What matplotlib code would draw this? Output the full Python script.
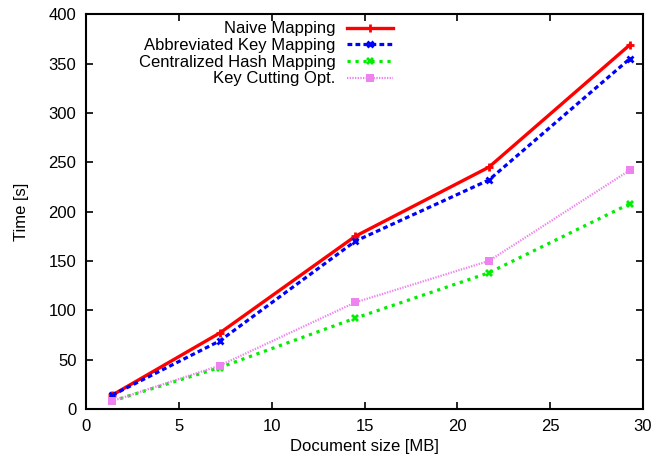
import matplotlib
matplotlib.use('Agg')
import matplotlib.pyplot as plt

plt.rcParams['font.family'] = ['Liberation Sans', 'DejaVu Sans']

# data
doc_size = [1.4, 7.2, 14.5, 21.7, 29.3]
naive = [14, 77, 175, 245, 369]
abbrev = [14, 69, 170, 232, 355]
central = [8, 42, 92, 138, 208]
key_cut = [8, 44, 108, 150, 242]

labels = ['Naive Mapping', 'Abbreviated Key Mapping',
          'Centralized Hash Mapping', 'Key Cutting Opt.']
x_ticks = [0, 5, 10, 15, 20, 25, 30]
y_ticks = [0, 50, 100, 150, 200, 250, 300, 350, 400]

fig = plt.figure(figsize=(6.58, 4.59), dpi=100)
ax = fig.add_axes([0.131, 0.109, 0.846, 0.860])

ax.plot(doc_size, naive, color='#ff0000', lw=2.4, ls='-',
        marker='+', ms=6, mew=2, label=labels[0])
ax.plot(doc_size, abbrev, color='#0000ff', lw=2.3, ls=(0, (1.5, 1)),
        marker='x', ms=5, mew=2, label=labels[1])
ax.plot(doc_size, central, color='#00ee00', lw=2.3, ls=(0, (1, 1.5)),
        marker='X', ms=6, mew=0, label=labels[2])
ax.plot(doc_size, key_cut, color='#ee82ee', lw=1.6, ls=(0, (0.6, 0.6)),
        marker='s', ms=6, mew=0, label=labels[3])

ax.set_xlim(0, 30)
ax.set_ylim(0, 400)
ax.set_xticks(x_ticks)
ax.set_yticks(y_ticks)
ax.tick_params(direction='in', top=True, right=True, length=5, width=1.2,
               labelsize=12, pad=7)
for s in ax.spines.values():
    s.set_linewidth(1.5)

ax.set_xlabel('Document size [MB]', fontsize=12, labelpad=4)
ax.set_ylabel('Time [s]', fontsize=12, labelpad=14)

leg = ax.legend(loc='upper right', bbox_to_anchor=(0.551, 0.982), markerfirst=False,
                frameon=False, fontsize=12, handlelength=2.76,
                handletextpad=0.7, labelspacing=0.1, borderaxespad=0,
                borderpad=0)
for t in leg.get_texts():
    t.set_ha('right')
leg._legend_box.align = 'right'

fig.savefig('out.png', dpi=100)
